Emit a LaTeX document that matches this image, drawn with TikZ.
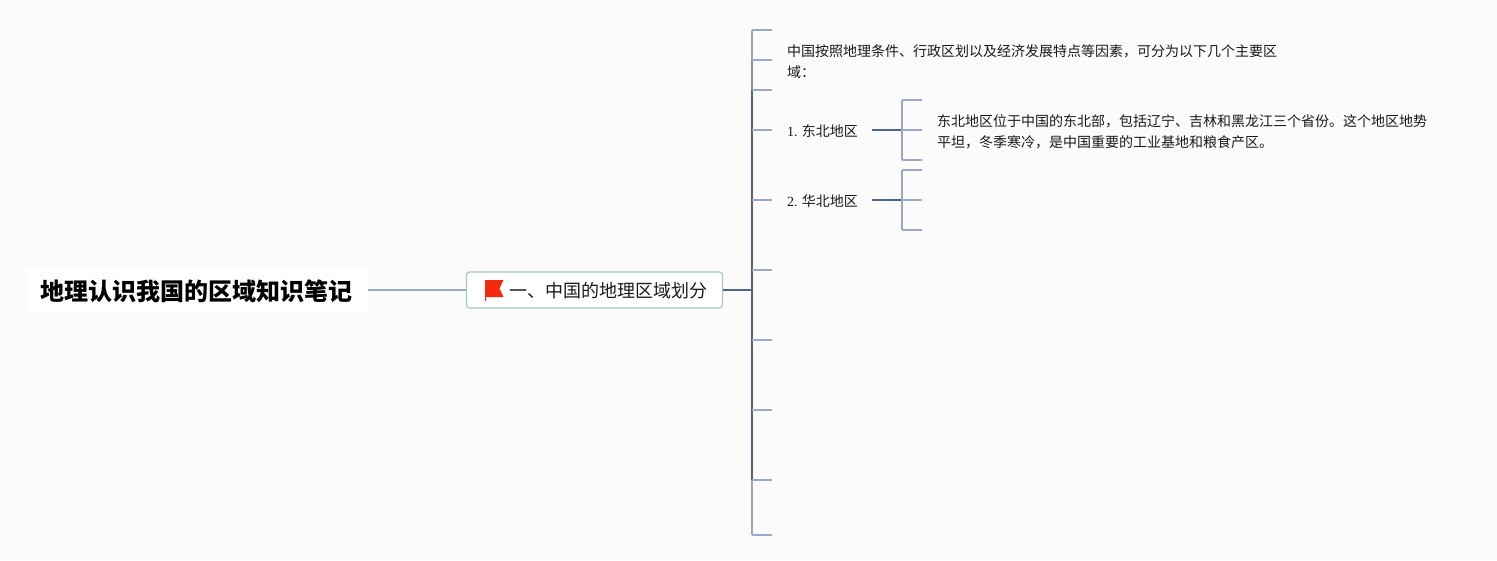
\documentclass[tikz,border=0pt]{standalone}
\usepackage{fontspec}
\usepackage{tikz}
\usetikzlibrary{positioning,calc}
\newfontfamily\cjk{Noto Sans CJK SC}
\newfontfamily\digits{Liberation Serif}
\definecolor{pagebg}{RGB}{251,251,252}
\definecolor{linelight}{RGB}{155,167,198}
\definecolor{linedark}{RGB}{76,98,146}
\definecolor{secborder}{RGB}{170,200,192}
\definecolor{flagred}{RGB}{243,42,12}

\begin{document}
\begin{tikzpicture}[x=1pt,y=-1pt,
  thin line/.style={draw=linelight,line width=1.8pt,rounded corners=1pt},
  thick line/.style={draw=linedark,line width=2pt},
  leaf/.style={anchor=west,align=left,inner xsep=15pt,inner ysep=3pt,text=black!90,
               font=\fontsize{14}{21}\selectfont\cjk}]
\fill[pagebg] (0,0) rectangle (1497,560);
\useasboundingbox (0,0) rectangle (1497,560);
% main nodes
\node[fill=white,rounded corners=2pt,inner xsep=15pt,minimum height=44pt,text height=24pt,text depth=4pt,
      font=\fontsize{24}{28}\selectfont\cjk\bfseries] (title) at (196.5,290) {地理认识我国的区域知识笔记};
\node[draw=secborder,line width=1.2pt,fill=white,rounded corners=3pt,minimum width=254pt,minimum height=36pt,
      text=black!90,inner xsep=0pt,text height=18pt,text depth=2.4pt,font=\fontsize{18}{22}\selectfont\cjk] (section) at (594.5,290)
      {\hspace*{43pt}一、中国的地理区域划分\hspace*{15pt}};
\node[leaf] (intro) at (772,62) {中国按照地理条件、行政区划以及经济发展特点等因素，可分为以下几个主要区\\域：};
\node[leaf] (east) at (772,131) {{\digits 1.} 东北地区};
\node[leaf] (north) at (772,201) {{\digits 2.} 华北地区};
\node[leaf] (eastdesc) at (922,132) {东北地区位于中国的东北部，包括辽宁、吉林和黑龙江三个省份。这个地区地势\\平坦，冬季寒冷，是中国重要的工业基地和粮食产区。};
% trunk and forks
\coordinate (trunk) at (752,290);
\coordinate (eastfork) at (902,130);
\coordinate (northfork) at (902,200);
\draw[thin line] (772,30) -- (752,30) -- (752,60);
\draw[draw=linelight!70!linedark,line width=2pt] (752,60) -- (752,90);
\draw[thick line] (752,90) -- (752,480);
\draw[thin line] (752,480) -- (752,535) -- (772,535);
\foreach \y in {60,90,130,200,270,340,410,480}
  \draw[thin line] (752,\y) -- (772,\y);
\draw[thin line] (title.east) -- (section.west);
\draw[thick line] (section.east) -- (trunk);
\draw[thick line] (872,130) -- (eastfork);
\draw[thick line] (872,200) -- (northfork);
\draw[thin line] (922,100) -- (902,100) -- (902,160) -- (922,160);
\draw[thin line] (eastfork) -- (922,130);
\draw[thin line] (922,170) -- (902,170) -- (902,230) -- (922,230);
\draw[thin line] (northfork) -- (922,200);
% flag
\fill[flagred] (485,280) -- (503.5,280) -- (499.5,288.5) -- (503.5,297) -- (486,297) -- (486,301) -- (485,301) -- cycle;
\end{tikzpicture}
\end{document}
